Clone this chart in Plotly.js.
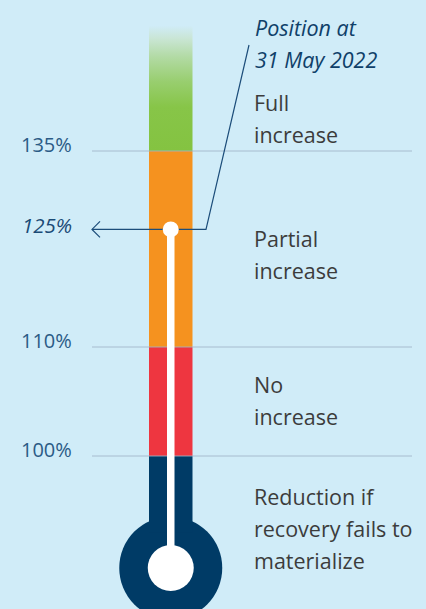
<!DOCTYPE html>
<html>
<head>
<meta charset="utf-8">
<script src="https://cdn.plot.ly/plotly-3.0.1.min.js"></script>
<style>
  html, body { margin: 0; padding: 0; background: #d0ecf8; }
  #chart { width: 426px; height: 609px; }
</style>
</head>
<body>
<div id="chart"></div>
<script>
// ---- data ----
var thresholds = [100, 110, 135];
var tickLabels = ['100%', '110%', '135%'];
var bandBounds = [93, 100, 110, 135, 151];       // bottom..top of each coloured band (%)
var bandColors = ['#003b66', '#ee3640', '#f5921f', '#84c341'];
var bandLabels = [
  ['Reduction if', 'recovery fails to', 'materialize'],
  ['No', 'increase'],
  ['Partial', 'increase'],
  ['Full', 'increase']
];
var currentValue = 125;
var currentLabel = '125%';
var positionTitle = ['Position at', '31 May 2022'];

// ---- schematic scale (percent -> plot coordinate, stretched below 110%) ----
function pos(v) { return v >= 110 ? 347 - (v - 110) * 7.84 : 456 - (v - 100) * 10.9; }

var cx = 170.75, barW = 43.5;
var FONT = 'Open Sans, Lato, sans-serif';
var traces = [];

// solid bands (all but the top one)
var baseArr = [], hArr = [], colArr = [];
for (var i = 0; i < bandColors.length - 1; i++) {
  baseArr.push(pos(bandBounds[i]));
  hArr.push(pos(bandBounds[i + 1]) - pos(bandBounds[i]));
  colArr.push(bandColors[i]);
}
traces.push({
  type: 'bar', x: [cx, cx, cx], base: baseArr, y: hArr, width: barW,
  marker: { color: colArr, line: { width: 0 } }, hoverinfo: 'skip', showlegend: false
});

// top band with fade
var gb = pos(bandBounds[3]), gt = pos(bandBounds[4]);
traces.push({
  type: 'scatter', mode: 'none', fill: 'toself',
  x: [cx - barW / 2, cx + barW / 2, cx + barW / 2, cx - barW / 2, cx - barW / 2],
  y: [gb, gb, gt, gt, gb],
  fillcolor: bandColors[3],
  fillgradient: {
    type: 'vertical', start: gb, stop: gt,
    colorscale: [[0, '#84c341'], [0.35, '#87c548'], [0.55, '#98ce6e'],
                 [0.75, '#b2daa4'], [0.9, '#cae6d6'], [1, '#d0ecf8']]
  },
  hoverinfo: 'skip', showlegend: false
});

// threshold lines
thresholds.forEach(function (t) {
  traces.push({
    type: 'scatter', mode: 'lines', x: [92, 412], y: [pos(t), pos(t)],
    line: { color: 'rgba(160,180,200,0.85)', width: 1 }, hoverinfo: 'skip', showlegend: false
  });
});

// pointer line from label to current position, plus leader to the title
var py = pos(currentValue);
traces.push({
  type: 'scatter', mode: 'lines', x: [92, 206, 249], y: [py, py, 45],
  line: { color: '#1c4d7a', width: 1.2 }, hoverinfo: 'skip', showlegend: false
});
traces.push({
  type: 'scatter', mode: 'lines', x: [100, 92, 100], y: [py - 8, py, py + 8],
  line: { color: '#1c4d7a', width: 1.2 }, hoverinfo: 'skip', showlegend: false
});

// mercury stem
traces.push({
  type: 'scatter', mode: 'lines', x: [cx, cx], y: [py, 568],
  line: { color: '#ffffff', width: 7.5 }, hoverinfo: 'skip', showlegend: false
});
// current position dot
traces.push({
  type: 'scatter', mode: 'markers', x: [cx], y: [py],
  marker: { color: '#ffffff', size: 16, line: { width: 0 } }, hoverinfo: 'skip', showlegend: false
});

// annotations
var ann = [];
thresholds.forEach(function (t, k) {
  ann.push({ x: 19, y: pos(t) - 7, xref: 'x', yref: 'y', text: tickLabels[k], showarrow: false,
    xanchor: 'left', yanchor: 'middle', font: { family: FONT, size: 20, color: '#2b5b86' } });
});
ann.push({ x: 20, y: py - 4, xref: 'x', yref: 'y', text: '<i>' + currentLabel + '</i>', showarrow: false,
  xanchor: 'left', yanchor: 'middle', font: { family: FONT, size: 20.5, color: '#1a4a76', weight: 500 } });

positionTitle.forEach(function (s, k) {
  ann.push({ x: 253, y: 27 + k * 32, xref: 'x', yref: 'y', text: '<i>' + s + '</i>', showarrow: false,
    xanchor: 'left', yanchor: 'middle', font: { family: FONT, size: 21.5, color: '#0f4069', weight: 500 } });
});

var labelTops = [496, 384, 238, 102];
bandLabels.forEach(function (lines, b) {
  lines.forEach(function (s, k) {
    ann.push({ x: 252, y: labelTops[b] + k * 32, xref: 'x', yref: 'y', text: s, showarrow: false,
      xanchor: 'left', yanchor: 'middle', font: { family: FONT, size: 21.5, color: '#3c3c3c', weight: 400 } });
  });
});

var layout = {
  width: 426, height: 609,
  margin: { l: 0, r: 0, t: 0, b: 0 },
  paper_bgcolor: '#d0ecf8', plot_bgcolor: '#d0ecf8',
  xaxis: { range: [0, 426], visible: false, fixedrange: true },
  yaxis: { range: [609, 0], visible: false, fixedrange: true },
  barmode: 'overlay',
  showlegend: false,
  shapes: [
    { type: 'circle', xref: 'x', yref: 'y', layer: 'below',
      x0: cx - 51.5, x1: cx + 51.5, y0: 568 - 51.5, y1: 568 + 51.5,
      fillcolor: bandColors[0], line: { width: 0 } },
    { type: 'circle', xref: 'x', yref: 'y', layer: 'below',
      x0: cx - 23, x1: cx + 23, y0: 568 - 23, y1: 568 + 23,
      fillcolor: '#ffffff', line: { width: 0 } }
  ],
  annotations: ann
};

Plotly.newPlot('chart', traces, layout, { displayModeBar: false, staticPlot: true });
</script>
</body>
</html>
